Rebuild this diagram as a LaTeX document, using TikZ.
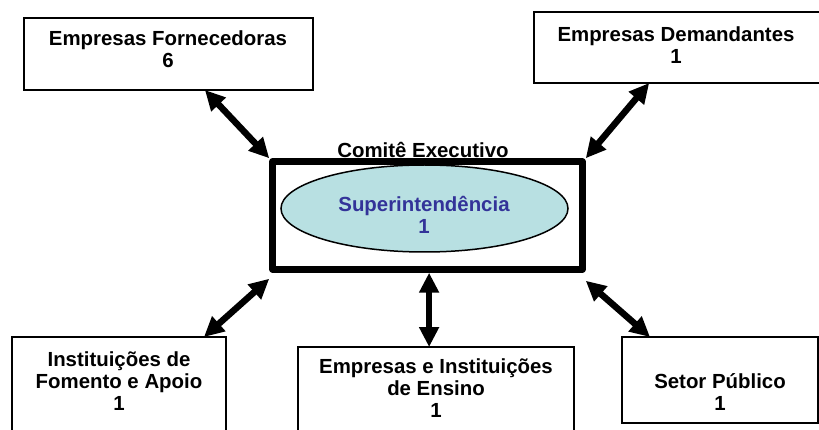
\documentclass[tikz,border=0pt]{standalone}
\usepackage{fontspec}
\setmainfont{Liberation Sans}
\usetikzlibrary{arrows.meta,shapes.geometric,calc}
\definecolor{ellfill}{RGB}{184,224,226}
\definecolor{elltext}{RGB}{51,51,153}
\begin{document}
\begin{tikzpicture}[x=1pt,y=-1pt,
  box/.style={draw=black,line width=1.5pt,fill=white,inner sep=0pt,outer sep=0pt,rectangle},
  txt/.style={align=center,font=\fontsize{20.4}{22}\selectfont\bfseries,inner sep=0pt},
  dbl/.style={line width=6.5pt,{Triangle[length=20pt,width=19pt]}-{Triangle[length=20pt,width=19pt]}}]
\useasboundingbox (0,0) rectangle (819,430);
% boxes
\node[box,minimum width=289,minimum height=72] (forn) at (168.5,54) {};
\node[box,minimum width=288,minimum height=71] (dem) at (678,47.5) {};
\node[box,minimum width=214,minimum height=96] (fom) at (119,385) {};
\node[box,minimum width=276,minimum height=86] (ens) at (436,390) {};
\node[box,minimum width=196,minimum height=86] (set) at (720,380) {};
% central
\node[draw=black,line width=6.5pt,line join=round,rectangle,minimum width=310,minimum height=108,inner sep=0pt] (exec) at (427.5,215.5) {};
\node[draw=black,line width=1.5pt,fill=ellfill,ellipse,minimum width=287,minimum height=87,inner sep=0pt] (sup) at (424.5,208.5) {};
% texts
\node[txt] (tforn) at (168,49.5) {Empresas Fornecedoras\\6};
\node[txt] (tdem) at (676,45) {Empresas Demandantes\\1};
\node[txt] (tcom) at (423,150) {Comitê Executivo};
\node[txt,text=elltext] (tsup) at (424,214.5) {Superintendência\\1};
\node[txt] (tfom) at (119,381.5) {Instituições de\\Fomento e Apoio\\1};
\node[txt] (tens) at (436,388) {Empresas e Instituições\\de Ensino\\1};
\node[txt] (tset) at (720,392) {Setor Público\\1};
% arrows
\draw[dbl] ($(forn.south west)!0.626!(forn.south east)$) -- (exec.north west);
\draw[dbl] ($(dem.south west)!0.40!(dem.south east)$) -- (exec.north east);
\draw[dbl] ($(fom.north west)!0.897!(fom.north east)$) -- ([yshift=-6pt]exec.south west);
\coordinate (ensTop) at ($(ens.north west)!0.475!(ens.north east)$);
\draw[dbl] (exec.south -| ensTop) -- (ensTop);
\draw[dbl] ($(set.north west)!0.143!(set.north east)$) -- ([yshift=-8pt]exec.south east);
\end{tikzpicture}
\end{document}
